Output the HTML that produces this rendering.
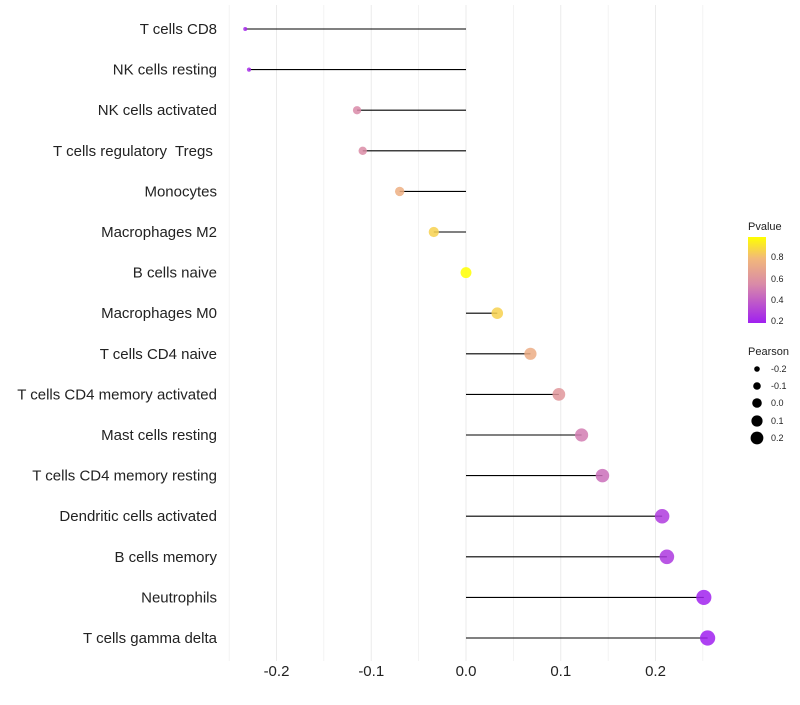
<!DOCTYPE html>
<html><head><meta charset="utf-8"><style>
body{margin:0;background:#fff;font-family:"Liberation Sans",sans-serif}
text{white-space:pre}
</style></head><body>
<svg id="c" width="800" height="700" xmlns="http://www.w3.org/2000/svg">
<defs><linearGradient id="pg" x1="0" y1="1" x2="0" y2="0">
<stop offset="0" stop-color="#a020f0"/><stop offset="0.45" stop-color="#d98aa8"/><stop offset="0.75" stop-color="#f2b87a"/><stop offset="1" stop-color="#ffff00"/></linearGradient></defs>
<g id="grid"></g>
<g id="marks"></g>
<g id="labels"></g>
<g font-size="9" fill="#222">
<text x="748" y="230" font-size="11">Pvalue</text>
<rect x="748" y="237" width="18" height="86" fill="url(#pg)"/>
<text x="771" y="260">0.8</text>
<text x="771" y="282">0.6</text>
<text x="771" y="303">0.4</text>
<text x="771" y="324">0.2</text>
</g>
<g font-size="9" fill="#222">
<text x="748" y="355" font-size="11">Pearson</text>
<circle cx="757" cy="369" r="2.8" fill="#000"/><text x="771" y="372">-0.2</text>
<circle cx="757" cy="386" r="3.8" fill="#000"/><text x="771" y="389">-0.1</text>
<circle cx="757" cy="403" r="4.8" fill="#000"/><text x="771" y="406">0.0</text>
<circle cx="757" cy="421" r="5.6" fill="#000"/><text x="771" y="424">0.1</text>
<circle cx="757" cy="438" r="6.4" fill="#000"/><text x="771" y="441">0.2</text>
</g>
</svg>
<script>
const categories=["T cells CD8","NK cells resting","NK cells activated","T cells regulatory  Tregs ","Monocytes","Macrophages M2","B cells naive","Macrophages M0","T cells CD4 naive","T cells CD4 memory activated","Mast cells resting","T cells CD4 memory resting","Dendritic cells activated","B cells memory","Neutrophils","T cells gamma delta"];
const pearson=[-0.233,-0.229,-0.115,-0.109,-0.070,-0.034,0.0,0.033,0.068,0.098,0.122,0.144,0.207,0.212,0.251,0.255];
const pvalue=[0.19,0.2,0.55,0.56,0.75,0.87,1.0,0.87,0.74,0.62,0.5,0.45,0.26,0.25,0.17,0.16];
const xTicks=[-0.2,-0.1,0.0,0.1,0.2];
const xTickLabels=["-0.2","-0.1","0.0","0.1","0.2"];
const NS="http://www.w3.org/2000/svg";
const x=v=>466+v*947.5;
const y=i=>29+i*40.6;
function mk(t,a,p){const e=document.createElementNS(NS,t);for(const k in a)e.setAttribute(k,a[k]);p.appendChild(e);return e;}
const stops=[[0.16,[160,32,240]],[0.55,[217,138,168]],[0.8,[242,184,122]],[1.0,[255,255,0]]];
function col(p){for(let i=0;i<stops.length-1;i++){const[a,c1]=stops[i],[b,c2]=stops[i+1];if(p<=b||i==stops.length-2){let t=Math.max(0,Math.min(1,(p-a)/(b-a)));return "rgb("+c1.map((c,j)=>Math.round(c+(c2[j]-c)*t)).join(",")+")";}}}
const mn=Math.min(...pearson),mx=Math.max(...pearson);
const r=v=>Math.sqrt(4+(v-mn)/(mx-mn)*54);
const g=document.getElementById('grid'),m=document.getElementById('marks'),L=document.getElementById('labels');
for(let k=-5;k<=5;k++){const v=k*0.05;const l=mk('line',{x1:x(v),x2:x(v),y1:5,y2:661,stroke:'#ebebeb','stroke-width':k%2!==0?0.6:1},g);

}
xTicks.forEach((v,i)=>{const t=mk('text',{x:x(v),y:676,'text-anchor':'middle','font-size':15,fill:'#222'},L);t.textContent=xTickLabels[i];

});
categories.forEach((c,i)=>{
const t=mk('text',{x:217,y:y(i)+5,'text-anchor':'end','font-size':15,fill:'#222'},L);t.textContent=c;


const ln=mk('line',{x1:x(0),x2:x(pearson[i]),y1:y(i),y2:y(i),stroke:'#000','stroke-width':1.1},m);


const ci=mk('circle',{cx:x(pearson[i]),cy:y(i),r:r(pearson[i]),fill:col(pvalue[i]),'fill-opacity':0.85},m);


});
</script>
</body></html>
